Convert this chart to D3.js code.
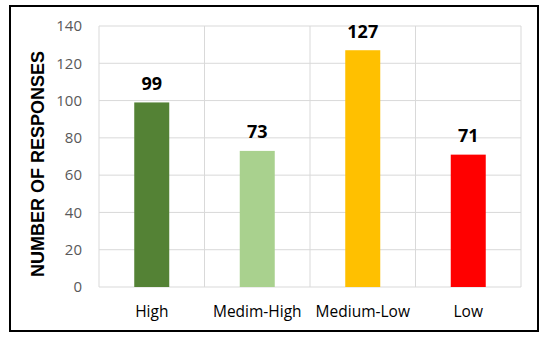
<!DOCTYPE html>
<html><head><meta charset="utf-8">
<script src="https://cdn.jsdelivr.net/npm/d3@7"></script>
<style>body{margin:0;background:#fff;}svg{display:block;}</style>
</head><body>
<script>
const categories = ["High", "Medim-High", "Medium-Low", "Low"];
const values = [99, 73, 127, 71];
const colors = ["#548235", "#A9D18E", "#FFC000", "#FF0000"];
const yTicks = [0, 20, 40, 60, 80, 100, 120, 140];
const yTitle = "NUMBER OF RESPONSES";

const W = 550, H = 341;
const svg = d3.select("body").append("svg").attr("width", W).attr("height", H);
svg.append("rect").attr("x", 10).attr("y", 6).attr("width", 528).attr("height", 325)
  .attr("fill", "#fff").attr("stroke", "#000").attr("stroke-width", 2);

const m = {left: 99, right: 521, top: 26, bottom: 287};
const x = d3.scaleBand().domain(categories).range([m.left, m.right]).paddingInner(0).paddingOuter(0);
const y = d3.scaleLinear().domain([0, 140]).range([m.bottom, m.top]);

const g = svg.append("g");
g.selectAll("line.h").data(yTicks).enter().append("line")
  .attr("x1", m.left).attr("x2", m.right)
  .attr("y1", d => y(d)).attr("y2", d => y(d))
  .attr("stroke", "#d9d9d9").attr("stroke-width", 1);
const bounds = categories.map(c => x(c)).concat([x(categories[categories.length-1]) + x.bandwidth()]);
g.selectAll("line.v").data(bounds).enter().append("line")
  .attr("x1", d => d).attr("x2", d => d)
  .attr("y1", m.top).attr("y2", m.bottom)
  .attr("stroke", "#d9d9d9").attr("stroke-width", 1);

const yAxis = svg.append("g").attr("transform", `translate(${m.left},0)`)
  .call(d3.axisLeft(y).tickValues(yTicks).tickSize(0).tickPadding(17));
yAxis.select(".domain").remove();
yAxis.selectAll("text").attr("fill", "#595959").style("font-family", "'Open Sans', sans-serif").style("font-size", "15px");

const xAxis = svg.append("g").attr("transform", `translate(0,${m.bottom})`)
  .call(d3.axisBottom(x).tickSize(0).tickPadding(19));
xAxis.select(".domain").remove();
xAxis.selectAll("text").attr("fill", "#000").style("font-family", "'Open Sans', sans-serif").style("font-size", "15.5px");

const bw = 35;
svg.selectAll("rect.bar").data(values).enter().append("rect")
  .attr("x", (d, i) => x(categories[i]) + x.bandwidth()/2 - bw/2)
  .attr("width", bw)
  .attr("y", d => y(d))
  .attr("height", d => y(0) - y(d))
  .attr("fill", (d, i) => colors[i]);

svg.selectAll("text.val").data(values).enter().append("text")
  .attr("x", (d, i) => x(categories[i]) + x.bandwidth()/2)
  .attr("y", d => y(d) - 12.5)
  .attr("text-anchor", "middle")
  .style("font-family", "'Open Sans', sans-serif").style("font-weight", "bold").style("font-size", "18px")
  .attr("fill", "#000")
  .text(d => d);

svg.append("text")
  .attr("transform", `translate(44,164) rotate(-90)`)
  .attr("text-anchor", "middle")
  .style("font-family", "'Liberation Sans', Arial, sans-serif").style("font-weight", "bold").style("font-size", "18px")
  .attr("fill", "#000")
  .text(yTitle);
</script>
</body></html>
